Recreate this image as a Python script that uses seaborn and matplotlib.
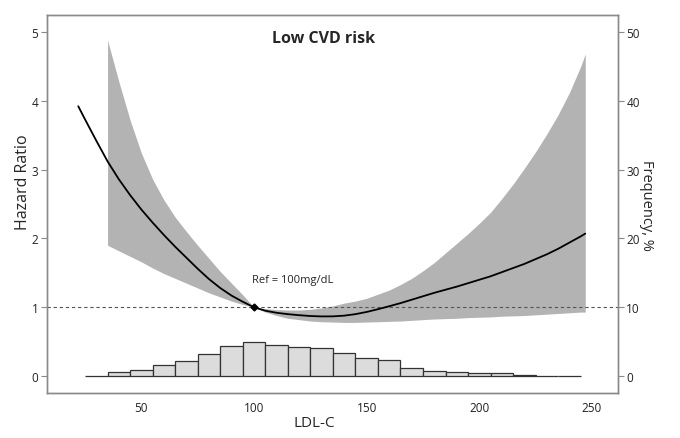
import numpy as np
import pandas as pd
import matplotlib
matplotlib.use("Agg")
import matplotlib.pyplot as plt
import seaborn as sns

# restricted cubic spline estimate
ldl = [22, 25, 30, 35, 40, 45, 50, 55, 60, 65, 70, 75, 80, 85, 90, 95, 100,
       105, 110, 115, 120, 125, 130, 135, 140, 145, 150, 155, 160, 165, 170,
       175, 180, 185, 190, 195, 200, 205, 210, 215, 220, 225, 230, 235, 240,
       245, 247]
hr = [3.92, 3.73, 3.42, 3.12, 2.86, 2.63, 2.42, 2.23, 2.05, 1.88, 1.72, 1.56,
      1.41, 1.28, 1.17, 1.08, 1.00, 0.95, 0.92, 0.90, 0.885, 0.873, 0.867,
      0.868, 0.878, 0.90, 0.932, 0.972, 1.015, 1.06, 1.11, 1.16, 1.21, 1.255,
      1.30, 1.35, 1.40, 1.45, 1.51, 1.57, 1.63, 1.70, 1.77, 1.85, 1.94, 2.03,
      2.07]

# 95% confidence band (starts at 35)
band_ldl = [35, 40, 45, 50, 55, 60, 65, 70, 75, 80, 85, 90, 95, 100, 105, 110,
            115, 120, 125, 130, 135, 140, 145, 150, 155, 160, 165, 170, 175,
            180, 185, 190, 195, 200, 205, 210, 215, 220, 225, 230, 235, 240,
            245, 247]
hr_upper = [4.88, 4.28, 3.72, 3.24, 2.86, 2.56, 2.31, 2.10, 1.90, 1.71, 1.52,
            1.35, 1.18, 1.00, 0.98, 0.965, 0.96, 0.96, 0.97, 0.99, 1.02, 1.06,
            1.09, 1.13, 1.19, 1.25, 1.33, 1.42, 1.53, 1.65, 1.79, 1.93, 2.07,
            2.22, 2.38, 2.58, 2.79, 3.02, 3.26, 3.52, 3.80, 4.12, 4.50, 4.68]
hr_lower = [1.90, 1.82, 1.74, 1.66, 1.57, 1.49, 1.42, 1.35, 1.28, 1.21, 1.15,
            1.09, 1.04, 1.00, 0.93, 0.88, 0.84, 0.82, 0.80, 0.79, 0.785, 0.78,
            0.78, 0.785, 0.79, 0.795, 0.80, 0.81, 0.82, 0.83, 0.835, 0.84,
            0.85, 0.855, 0.86, 0.87, 0.875, 0.88, 0.89, 0.90, 0.91, 0.92,
            0.93, 0.93]

# LDL-C distribution, % per 10 mg/dL bin
bin_edges = list(range(25, 255, 10))
bin_mid = [e + 5 for e in bin_edges[:-1]]
freq = [0.05, 0.55, 0.82, 1.62, 2.2, 3.15, 4.32, 4.95, 4.56, 4.22, 4.02, 3.35,
        2.67, 2.33, 1.12, 0.73, 0.63, 0.44, 0.39, 0.15, 0.0, 0.0]

sns.set_style("white")
plt.rcParams["font.family"] = ["Open Sans", "DejaVu Sans"]

fig = plt.figure(figsize=(6.8, 4.39), dpi=100)
ax = fig.add_axes([0.0687, 0.1018, 0.84, 0.8624])
ax2 = ax.twinx()

ax.fill_between(band_ldl, hr_lower, hr_upper, color="#b3b3b3", lw=0, zorder=1)
sns.lineplot(x=ldl, y=hr, ax=ax, color="black", lw=1.3, zorder=3)
ax.axhline(1, color="#555555", ls=(0, (3, 2.5)), lw=0.8, zorder=2)
ax.plot([100], [1], marker="D", ms=3.5, color="black", zorder=4)
ax.text(99, 1.40, "Ref = 100mg/dL", fontsize=8, va="center", ha="left")
ax.text(0.484, 0.938, "Low CVD risk", transform=ax.transAxes, fontsize=11.5,
        fontweight="bold", ha="center", va="center")

hist_df = pd.DataFrame({"ldl": bin_mid, "pct": freq})
sns.histplot(data=hist_df, x="ldl", weights="pct", bins=bin_edges, ax=ax2,
             color="#dcdcdc", edgecolor="#333333", linewidth=0.9, alpha=1)

ax.set_xlim(8, 261.5)
ax.set_ylim(-0.25, 5.25)
ax2.set_ylim(-2.5, 52.5)
ax.set_xticks([50, 100, 150, 200, 250])
ax.set_yticks([0, 1, 2, 3, 4, 5])
ax2.set_yticks([0, 10, 20, 30, 40, 50])

ax.set_xlabel("LDL-C", fontsize=11)
ax.xaxis.set_label_coords(0.468, -0.057)
ax.set_ylabel("Hazard Ratio", fontsize=11.5)
ax.yaxis.set_label_coords(-0.028, 0.561)
ax2.set_ylabel("Frequency, %", fontsize=10.5, rotation=270, labelpad=10)

for a in (ax, ax2):
    for s in a.spines.values():
        s.set_color("#8a8a8a")
        s.set_linewidth(1.0)
    a.tick_params(length=4, width=0.8, color="#8a8a8a", labelsize=8.5,
                  labelcolor="#222222", pad=2)
ax.tick_params(axis="x", pad=1.5)

fig.savefig("out.png", dpi=100)
